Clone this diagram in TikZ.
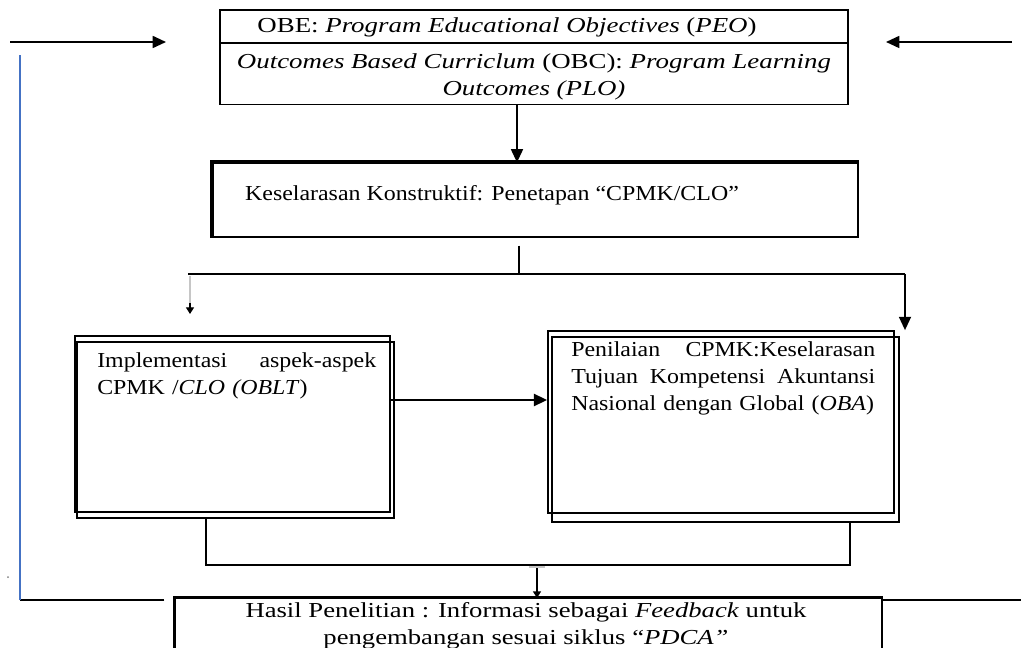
\documentclass[tikz,border=0pt]{standalone}
\usepackage{fontspec}
\setmainfont{Liberation Serif}[FakeStretch=1.12]
\newfontfamily\topfont{Liberation Serif}[FakeStretch=1.26]
\newfontfamily\botfont{Liberation Serif}[FakeStretch=1.25]
\usetikzlibrary{arrows.meta}
\definecolor{wordblue}{RGB}{68,114,196}
\begin{document}
\begin{tikzpicture}[x=0.75pt,y=-0.75pt,
  font=\fontsize{16}{20.25}\selectfont,
  box/.style={draw, line width=1.3pt, inner sep=0pt},
  thinbox/.style={draw, line width=0.8pt, inner sep=0pt},
  txt/.style={inner sep=0pt, align=left},
  toptxt/.style={inner sep=0pt, align=center, font=\topfont\fontsize{16}{20.25}\selectfont},
  conn/.style={line width=1.3pt},
  arr/.style={line width=1.3pt, -{Triangle[length=10pt,width=9pt]}},
  blob/.style={line width=1pt, -{Triangle[length=5pt,width=6pt]}}]
\useasboundingbox (0,0) rectangle (1021,648);

% top boxes
\node[box, minimum width=471pt, minimum height=24.75pt] (peo) at (534,26.5) {};
\node[box, minimum width=471pt, minimum height=45.75pt] (plo) at (534,74) {};
\node[toptxt] (peotxt) at (507,27) {OBE: \textit{Program Educational Objectives} (\textit{PEO})};
\node[toptxt] (plotxt) at (534,77)
  {\textit{Outcomes Based Curriclum} (OBC): \textit{Program Learning}\\ \textit{Outcomes (PLO)}};

% side arrows
\coordinate (la) at (10,42);
\coordinate (lb) at (166,42);
\coordinate (ra) at (1012,42);
\coordinate (rb) at (886,42);
\draw[arr] (la) -- (lb);
\draw[arr] (ra) -- (rb);

% second box
\node[thinbox, minimum width=483.75pt, minimum height=55.5pt] (kes) at (535.5,200) {};
\draw[line width=3pt] (kes.south west) -- (kes.north west) -- (kes.north east);
\node[inner sep=0pt] (kestxt) at (492,195) {Keselarasan Konstruktif: Penetapan “CPMK/CLO”};
\draw[arr] (517,0 |- plo.south) -- (517,0 |- kes.north);

% split
\coordinate (split) at (519,274);
\coordinate (sl) at (188,274);
\coordinate (sr) at (905,274);
\draw[conn, shorten <=6pt] (519,0 |- kes.south) -- (split);
\draw[conn] (sl) -- (sr);

% left box (double)
\node[box, minimum width=236.25pt, minimum height=132pt] (impl) at (232.5,424) {};
\draw[line width=1.3pt] ([shift={(3,7)}]impl.north west) rectangle ([shift={(3,5)}]impl.south east);
\node[txt, text width=209.25pt, anchor=north west] (impltxt) at (97,352)
  {Implementasi\hfill aspek-aspek\\CPMK /\textit{CLO (OBLT})};

% right box (double)
\node[box, minimum width=259.5pt, minimum height=136.5pt] (pen) at (721,422) {};
\draw[line width=1.3pt] ([shift={(5,7)}]pen.north west) rectangle ([shift={(4,8)}]pen.south east);
\node[txt, text width=228pt, anchor=north west] (pentxt) at (571,341)
  {Penilaian\hfill CPMK:Keselarasan\\Tujuan\hfill Kompetensi\hfill Akuntansi\\Nasional dengan Global (\textit{OBA})};

% branches
\draw[arr] (sr) -- (905,0 |- pen.north);
\draw[line width=1.2pt, gray!45] (190,276) -- (190,303);
\draw[blob] (190,303) -- (190,314);

% middle arrow
\draw[line width=2pt, -{Triangle[length=10pt,width=9pt]}] (impl.east |- 0,400) -- (pen.west |- 0,400);

% merge
\coordinate (ml) at (206,565);
\coordinate (mr) at (850,565);
\draw[conn] (206,0 |- impl.south) ++(0,5) -- (ml) -- (mr) -- (850,521);
\draw[line width=1.5pt, gray!45] (529,567) -- (545,567);
\draw[conn] (537,568) -- (537,588);
\draw[blob] (537,588) -- (537,598);

% bottom box
\node[thinbox, minimum width=530.25pt, minimum height=52.5pt] (hasil) at (528.5,633) {};
\draw[line width=2.6pt] (hasil.south west) -- (hasil.north west) -- (hasil.north east);
\node[inner sep=0pt, align=center, anchor=north, font=\botfont\fontsize{16}{20.25}\selectfont] (hasiltxt) at (526,602)
  {Hasil Penelitian : Informasi sebagai \textit{Feedback} untuk\\pengembangan sesuai siklus “\textit{PDCA”}};

% feedback lines
\coordinate (fb1) at (20,600);
\coordinate (fb2) at (20,55);
\coordinate (fr) at (1021,600);
\draw[conn] (hasil.west |- fb1) ++(-10,0) -- (fb1);
\draw[line width=0.8pt, wordblue] (fb1) -- (fb2);
\draw[conn] (hasil.east |- fb1) -- (fr);
\fill[gray] (8,577) circle (1);
\end{tikzpicture}
\end{document}
